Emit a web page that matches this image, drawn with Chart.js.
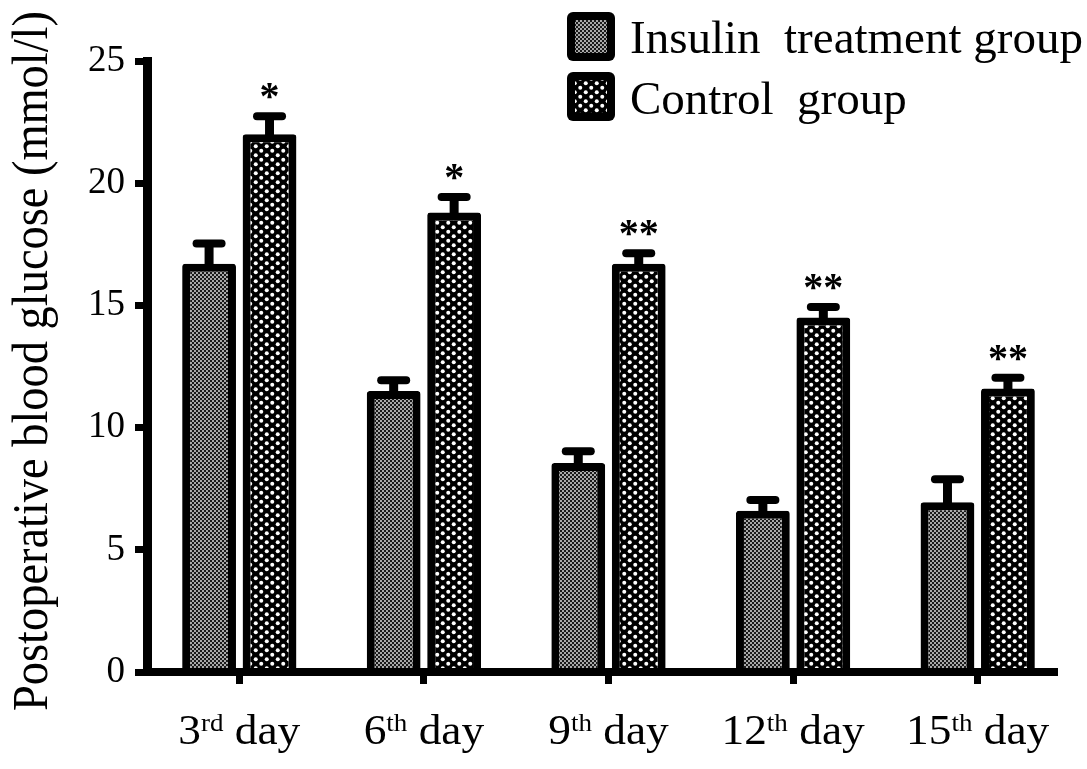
<!DOCTYPE html>
<html>
<head>
<meta charset="utf-8">
<script src="https://cdn.jsdelivr.net/npm/chart.js@4.4.1/dist/chart.umd.min.js"></script>
<style>
  html, body { margin: 0; padding: 0; background: #fff; }
  canvas { display: block; }
</style>
</head>
<body>
<canvas id="mainChart" width="1087" height="769"></canvas>
<script>
// Dados do gráfico
const dayNumbers = ['3', '6', '9', '12', '15'];
const dayOrdinals = ['rd', 'th', 'th', 'th', 'th'];
const insulinMean = [16.7, 11.5, 8.55, 6.6, 6.95];
const insulinSD = [1.0, 0.6, 0.65, 0.6, 1.1];
const controlMean = [22.0, 18.8, 16.7, 14.5, 11.6];
const controlSD = [0.9, 0.8, 0.6, 0.6, 0.6];
const significance = ['*', '*', '**', '**', '**'];
const yTicks = [0, 5, 10, 15, 20, 25];
const seriesNames = ['Insulin  treatment group', 'Control  group'];
const yTitle = 'Postoperative blood glucose (mmol/l)';

const SERIF = '"Liberation Serif", "Times New Roman", serif';
const ctx = document.getElementById('mainChart');

// padrões pontilhados das barras
function makePattern(w, h, dots, r, bg, fg) {
  const c = document.createElement('canvas');
  c.width = w; c.height = h;
  const g = c.getContext('2d');
  g.fillStyle = bg;
  g.fillRect(0, 0, w, h);
  g.fillStyle = fg;
  dots.forEach(([x, y]) => {
    g.beginPath();
    g.arc(x, y, r, 0, Math.PI * 2);
    g.fill();
  });
  return c.getContext('2d').createPattern(c, 'repeat');
}
const insulinFill = makePattern(4, 4, [[1, 1], [3, 3]], 0.95, '#1a1a1a', '#e6e6e6');
const controlFill = makePattern(11, 9, [[2.75, 2.25], [8.25, 6.75]], 2.0, '#000', '#fff');

// texto com esticamento horizontal
function stretchedText(c, text, x, y, font, sx, align) {
  c.save();
  c.font = font;
  const w = c.measureText(text).width * sx;
  let left = x;
  if (align === 'center') left = x - w / 2;
  if (align === 'right') left = x - w;
  c.translate(left, y);
  c.scale(sx, 1);
  c.textAlign = 'left';
  c.textBaseline = 'alphabetic';
  c.fillText(text, 0, 0);
  c.restore();
}

const decorations = {
  id: 'decorations',
  afterDatasetsDraw(chart) {
    const c = chart.ctx;
    const y = chart.scales.y;
    const x = chart.scales.x;
    const area = chart.chartArea;
    const sds = [insulinSD, controlSD];
    c.save();
    c.strokeStyle = '#000';
    c.fillStyle = '#000';

    // barras de erro
    chart.data.datasets.forEach((ds, i) => {
      chart.getDatasetMeta(i).data.forEach((bar, j) => {
        const top = y.getPixelForValue(ds.data[j] + sds[i][j]);
        c.lineWidth = 9;
        c.lineCap = 'butt';
        c.beginPath();
        c.moveTo(bar.x, bar.y + 4);
        c.lineTo(bar.x, top + 4);
        c.stroke();
        c.lineWidth = 8;
        c.lineCap = 'round';
        c.beginPath();
        c.moveTo(bar.x - 12.5, top + 4);
        c.lineTo(bar.x + 12.5, top + 4);
        c.stroke();
        if (i === 1) {
          c.font = 'bold 40px ' + SERIF;
          c.textAlign = 'center';
          c.textBaseline = 'alphabetic';
          c.fillText(significance[j], bar.x, top - 3);
        }
      });
    });

    // eixo x
    c.lineWidth = 8;
    c.lineCap = 'butt';
    c.beginPath();
    c.moveTo(143, area.bottom);
    c.lineTo(1058, area.bottom);
    c.stroke();

    // rótulos do eixo x com sobrescrito
    dayNumbers.forEach((n, i) => {
      const cx = x.getPixelForTick(i);
      const big = '42px ' + SERIF;
      const small = '25px ' + SERIF;
      const sx = 1.08;
      c.font = big;
      const wN = c.measureText(n).width;
      const wD = c.measureText(' day').width;
      c.font = small;
      const wO = c.measureText(dayOrdinals[i]).width;
      const total = (wN + wO + wD) * sx;
      c.save();
      c.translate(cx - total / 2, 744);
      c.scale(sx, 1);
      c.textAlign = 'left';
      c.textBaseline = 'alphabetic';
      c.font = big;
      c.fillText(n, 0, 0);
      c.font = small;
      c.fillText(dayOrdinals[i], wN, -13);
      c.font = big;
      c.fillText(' day', wN + wO, 0);
      c.restore();
    });

    // título do eixo y
    c.save();
    c.translate(47, 361);
    c.rotate(-Math.PI / 2);
    c.scale(0.91, 1);
    c.font = '51px ' + SERIF;
    c.textAlign = 'center';
    c.textBaseline = 'alphabetic';
    c.fillText(yTitle, 0, 0);
    c.restore();

    // legenda
    const fills = [insulinFill, controlFill];
    seriesNames.forEach((name, i) => {
      const bx = 567, by = 12 + i * 60;
      c.fillStyle = '#000';
      c.beginPath();
      c.roundRect(bx, by, 48, 49, 6);
      c.fill();
      c.fillStyle = fills[i];
      c.fillRect(bx + 8, by + 8, 32, 33);
      c.fillStyle = '#000';
      c.font = '47px ' + SERIF;
      c.textAlign = 'left';
      c.textBaseline = 'alphabetic';
      c.fillText(name, 630, 53 + i * 61);
    });
    c.restore();
  }
};

const chart = new Chart(ctx, {
  type: 'bar',
  data: {
    labels: dayNumbers.map((n, i) => n + dayOrdinals[i] + ' day'),
    datasets: [{
      label: seriesNames[0],
      data: insulinMean,
      backgroundColor: insulinFill,
      borderColor: '#000',
      borderWidth: 8,
      borderRadius: 3,
      borderSkipped: 'start'
    }, {
      label: seriesNames[1],
      data: controlMean,
      backgroundColor: controlFill,
      borderColor: '#000',
      borderWidth: 8,
      borderRadius: 3,
      borderSkipped: 'start'
    }]
  },
  options: {
    responsive: false,
    animation: false,
    devicePixelRatio: 1,
    categoryPercentage: 0.655,
    barPercentage: 0.89,
    layout: { padding: { top: 61, right: 17, left: 0, bottom: 0 } },
    plugins: { legend: { display: false }, tooltip: { enabled: false } },
    scales: {
      x: {
        offset: true,
        grid: {
          offset: false,
          drawOnChartArea: false,
          drawTicks: true,
          tickLength: 12,
          tickWidth: 7,
          tickColor: '#000'
        },
        border: { display: false },
        ticks: { display: false },
        afterFit(scale) { scale.height = 97; }
      },
      y: {
        min: 0,
        max: 25,
        afterBuildTicks(scale) { scale.ticks = yTicks.map(v => ({ value: v })); },
        grid: {
          drawOnChartArea: false,
          drawTicks: true,
          tickLength: 12,
          tickWidth: 7,
          tickColor: '#000'
        },
        border: { display: true, color: '#000', width: 9 },
        ticks: {
          color: '#000',
          padding: 10,
          font: { family: SERIF, size: 37 }
        },
        afterFit(scale) { scale.width = 147; }
      }
    }
  },
  plugins: [decorations]
});
</script>
</body>
</html>
